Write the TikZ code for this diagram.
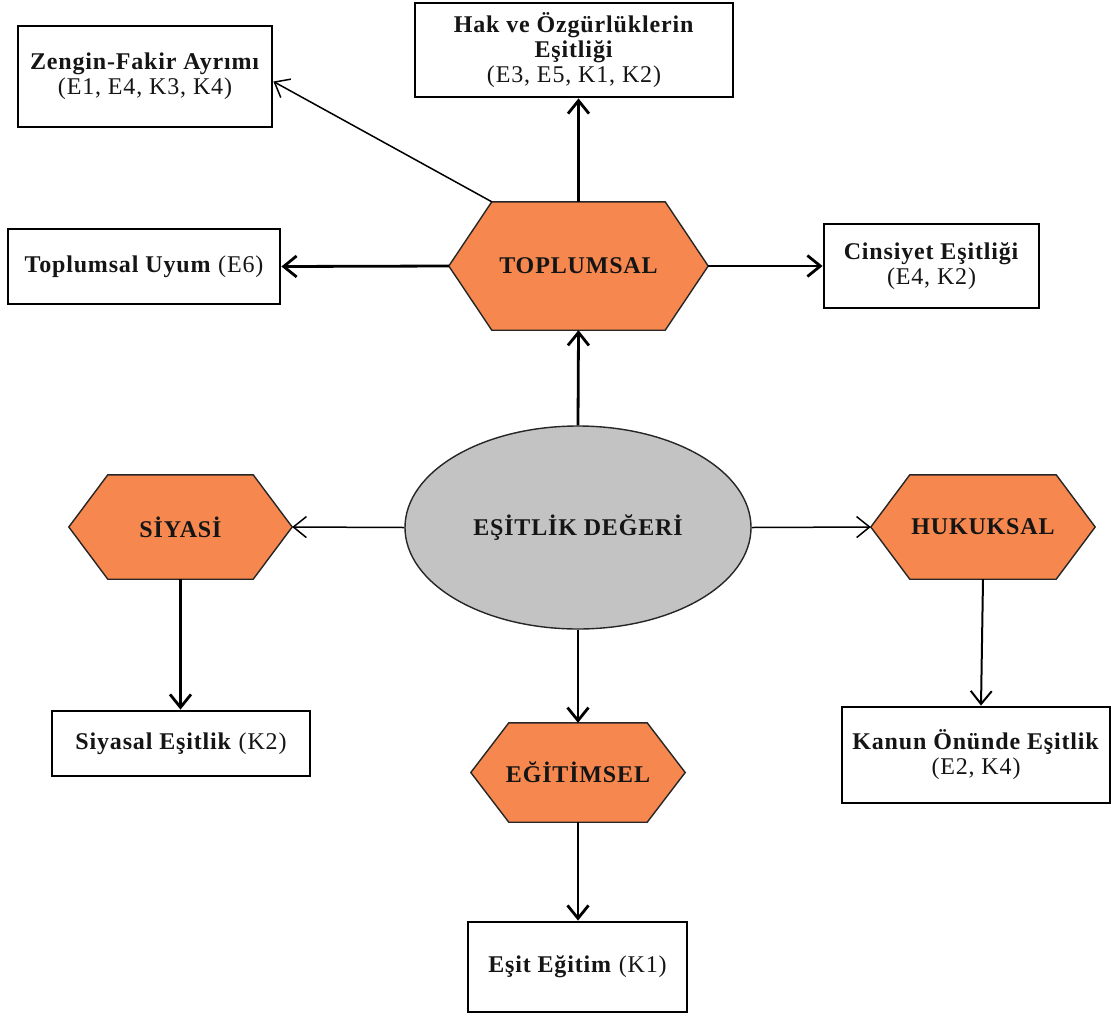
\documentclass[tikz,border=0pt]{standalone}
\usepackage{fontspec}
\setmainfont{Liberation Serif}[LetterSpace=3.5]
\usetikzlibrary{arrows.meta,calc,shapes.geometric,backgrounds}
\definecolor{hexorange}{HTML}{F6884F}
\definecolor{ellgray}{HTML}{C3C3C3}
\definecolor{ink}{HTML}{151515}
\tikzset{
  box/.style={draw=black, line width=2.8pt, fill=white, align=center, inner sep=0pt,
    text=ink, font=\fontsize{24}{25}\selectfont},
  hexnode/.style={inner sep=0pt, text=ink, font=\bfseries\fontsize{24}{26}\selectfont},
  hexshape/.style={fill=hexorange, draw=black!85, line width=1.4pt},
  thickarr/.style={line width=2.8pt, -{Straight Barb[length=13pt,width=21pt]}},
  thinarr/.style={line width=1.5pt, -{Straight Barb[length=13pt,width=21pt]}},
}
\newcommand{\hexdraw}[2]{%
  \draw[hexshape] (#1.west) -- ($(#1.north west)+(#2,0)$) -- ($(#1.north east)+(-#2,0)$)
    -- (#1.east) -- ($(#1.south east)+(-#2,0)$) -- ($(#1.south west)+(#2,0)$) -- cycle;}
\begin{document}
\begin{tikzpicture}[x=1pt,y=-1pt]
\useasboundingbox (0,0) rectangle (1111,1015);

% central ellipse
\node[ellipse, draw=black!85, line width=1.4pt, fill=ellgray, minimum width=346, minimum height=203,
  inner sep=0pt, text=ink, font=\bfseries\fontsize{24}{26}\selectfont] (ell) at (578,527.5) {EŞİTLİK DEĞERİ};

% hexagon nodes
\node[hexnode, minimum width=259, minimum height=128] (top) at (578.5,266) {TOPLUMSAL};
\node[hexnode, minimum width=223, minimum height=104] (siy) at (180.5,527) {SİYASİ};
\node[hexnode, minimum width=224, minimum height=104] (huk) at (983,527) {HUKUKSAL};
\node[hexnode, minimum width=214, minimum height=99] (egit) at (578,772.5) {EĞİTİMSEL};
\begin{scope}[on background layer]
  \fill[white] (0,0) rectangle (1111,1015);
  \hexdraw{top}{43}
  \hexdraw{siy}{39}
  \hexdraw{huk}{39}
  \hexdraw{egit}{38}
\end{scope}

% boxes
\node[box, minimum width=318, minimum height=94] (hak) at (574,50)
  {\textbf{Hak ve Özgürlüklerin}\\\textbf{Eşitliği}\\(E3, E5, K1, K2)};
\node[box, minimum width=254, minimum height=101] (zen) at (145,76.5)
  {\textbf{Zengin-Fakir Ayrımı}\\(E1, E4, K3, K4)};
\node[box, minimum width=272, minimum height=75] (uyum) at (144,266.5)
  {\textbf{Toplumsal Uyum} (E6)};
\node[box, minimum width=215, minimum height=84] (cins) at (931.5,266)
  {\textbf{Cinsiyet Eşitliği}\\(E4, K2)};
\node[box, minimum width=258, minimum height=65] (siyasal) at (181,743.5)
  {\textbf{Siyasal Eşitlik} (K2)};
\node[box, minimum width=268, minimum height=96] (kanun) at (976,755)
  {\textbf{Kanun Önünde Eşitlik}\\(E2, K4)};
\node[box, minimum width=219, minimum height=90] (esit) at (577.5,967)
  {\textbf{Eşit Eğitim} (K1)};

\coordinate (topcorner) at ($(top.north west)+(43,0)$);
\coordinate (zenin) at ($(zen.east)+(0,5)$);

% connectors
\draw[thickarr] (ell.north) -- (top.south);
\draw[thickarr] (top.north) -- (top.north |- hak.south);
\draw[thickarr] (top.west) -- (uyum.east);
\draw[thickarr] (top.east) -- (cins.west);
\draw[thinarr] (topcorner) -- (zenin);
\draw[thinarr] (ell.west) -- (siy.east);
\draw[thinarr] (ell.east) -- (huk.west);
\draw[thickarr] (siy.south) -- (siy.south |- siyasal.north);
\draw[thinarr, line width=2pt] (huk.south) -- ($(huk.south |- kanun.north)+(-2,0)$);
\draw[thickarr] (ell.south) -- (egit.north);
\draw[thickarr] (egit.south) -- (egit.south |- esit.north);
\end{tikzpicture}
\end{document}
